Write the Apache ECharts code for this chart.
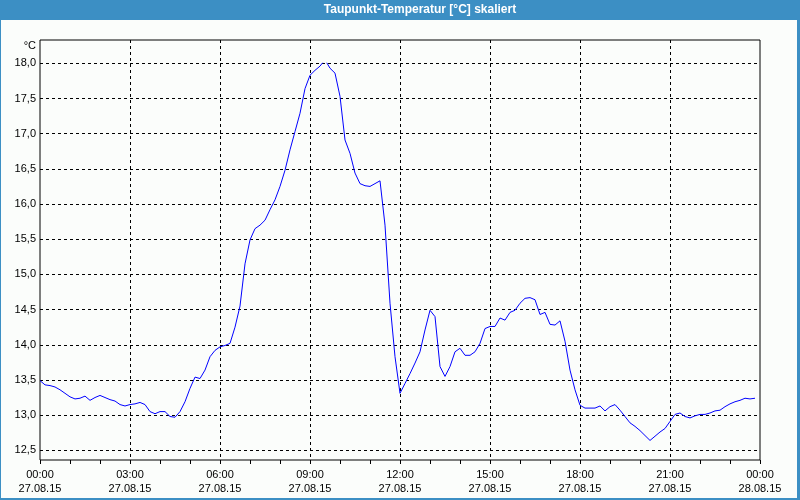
<!DOCTYPE html>
<html><head><meta charset="utf-8">
<script src="https://cdn.jsdelivr.net/npm/echarts@6/dist/echarts.min.js"></script>
<style>html,body{margin:0;padding:0;background:#fbfdfb}#c{width:800px;height:500px}</style>
</head><body><div id="c"></div><script>
// ---- data ----
const chartTitle = 'Taupunkt-Temperatur [°C] skaliert';
const unitLabel = '°C';
const sampleStepMinutes = 10; // readings every 10 minutes starting 27.08.15 00:00
const dewPoint = [
  13.49, 13.43, 13.42, 13.40, 13.36, 13.31, 13.26, 13.23, 13.24, 13.27,
  13.21, 13.25, 13.28, 13.25, 13.22, 13.20, 13.15, 13.13, 13.15, 13.16,
  13.18, 13.15, 13.05, 13.02, 13.05, 13.05, 12.98, 12.97, 13.05, 13.19,
  13.38, 13.54, 13.52, 13.64, 13.83, 13.92, 13.97, 13.99, 14.02, 14.25,
  14.55, 15.15, 15.49, 15.65, 15.70, 15.77, 15.92, 16.06, 16.25, 16.48,
  16.77, 17.03, 17.29, 17.64, 17.83, 17.90, 17.96, 18.05, 17.93, 17.86,
  17.53, 16.91, 16.72, 16.44, 16.29, 16.26, 16.25, 16.29, 16.33, 15.70,
  14.59, 13.83, 13.31, 13.45, 13.59, 13.74, 13.90, 14.21, 14.49, 14.40,
  13.69, 13.55, 13.69, 13.90, 13.95, 13.85, 13.85, 13.90, 14.02, 14.23,
  14.26, 14.26, 14.38, 14.35, 14.46, 14.49, 14.59, 14.66, 14.67, 14.64,
  14.43, 14.46, 14.29, 14.28, 14.34, 14.05, 13.64, 13.36, 13.14, 13.10,
  13.10, 13.10, 13.13, 13.06, 13.12, 13.15, 13.07, 12.98, 12.89, 12.84,
  12.78, 12.71, 12.64, 12.70, 12.76, 12.81, 12.91, 13.01, 13.03, 12.98,
  12.96, 12.99, 13.01, 13.01, 13.03, 13.06, 13.07, 13.12, 13.16, 13.19,
  13.21, 13.24, 13.23, 13.24
];
const xTickLabels = [
  '00:00\n27.08.15', '03:00\n27.08.15', '06:00\n27.08.15', '09:00\n27.08.15',
  '12:00\n27.08.15', '15:00\n27.08.15', '18:00\n27.08.15', '21:00\n27.08.15',
  '00:00\n28.08.15'
];
const xHourMin = 0, xHourMax = 24, xLabelStep = 3;
const yTickMin = 12.5, yTickMax = 18.0, yTickStep = 0.5;

// ---- layout ----
const FONT = 'Liberation Sans';
const plot = { left: 40, top: 40, width: 720, height: 420 };
const inner = { top: 63.3, bottom: 49.7 }; // pixel rows of the 18,0 and 12,5 gridlines

const points = dewPoint.map((v, i) => [i * sampleStepMinutes / 60, v]);

const chart = echarts.init(document.getElementById('c'), null, { renderer: 'canvas' });
chart.setOption({
  backgroundColor: '#fbfdfb',
  animation: false,
  textStyle: { fontFamily: FONT },
  grid: [
    { left: plot.left, top: plot.top, width: plot.width, height: plot.height,
      show: true, borderColor: '#000', borderWidth: 1, backgroundColor: 'transparent', z: 0 },
    { left: plot.left, width: plot.width, top: inner.top, bottom: inner.bottom, show: false }
  ],
  xAxis: [
    { type: 'value', gridIndex: 0, min: xHourMin, max: xHourMax, interval: xLabelStep,
      axisLine: { show: false },
      axisTick: { show: true, length: 4, inside: false, lineStyle: { color: '#000' } },
      minorTick: { show: true, splitNumber: 3, length: 4, lineStyle: { color: '#000' } },
      splitLine: { show: true, showMinLine: false, showMaxLine: false,
        lineStyle: { color: '#000', type: [3, 3], width: 1 } },
      axisLabel: { margin: 8, color: '#000', fontFamily: FONT, fontSize: 11, lineHeight: 14,
        showMinLabel: true, showMaxLabel: true,
        formatter: v => xTickLabels[Math.round(v / xLabelStep)] || '' } },
    { type: 'value', gridIndex: 1, min: xHourMin, max: xHourMax, show: false }
  ],
  yAxis: [
    { type: 'value', gridIndex: 0, show: false, min: 0, max: 1 },
    { type: 'value', gridIndex: 1, min: yTickMin, max: yTickMax, interval: yTickStep,
      axisLine: { show: false }, axisTick: { show: false },
      splitLine: { show: true, lineStyle: { color: '#000', type: [3, 3], width: 1 } },
      axisLabel: { margin: 4, color: '#000', fontFamily: FONT, fontSize: 11,
        formatter: v => v.toFixed(1).replace('.', ',') } }
  ],
  series: [{
    type: 'line', xAxisIndex: 1, yAxisIndex: 1, data: points,
    showSymbol: false, symbol: 'none', smooth: false,
    lineStyle: { color: '#0000ff', width: 1 }, z: 5
  }],
  graphic: [
    { type: 'rect', left: 0, top: 0, shape: { width: 800, height: 20 }, style: { fill: '#3c8fc4' }, z: 10 },
    { type: 'rect', left: 0, top: 0, shape: { width: 1, height: 500 }, style: { fill: '#3c8fc4' }, z: 10 },
    { type: 'rect', left: 797, top: 0, shape: { width: 3, height: 500 }, style: { fill: '#3c8fc4' }, z: 10 },
    { type: 'rect', left: 0, top: 498, shape: { width: 800, height: 2 }, style: { fill: '#3c8fc4' }, z: 10 },
    { type: 'text', x: 420, y: 10, z: 11,
      style: { text: chartTitle, fill: '#fff', font: 'bold 12px "' + FONT + '"',
        textAlign: 'center', textVerticalAlign: 'middle' } },
    { type: 'text', x: 36, y: 46, z: 11,
      style: { text: unitLabel, fill: '#000', font: '11px "' + FONT + '"',
        textAlign: 'right', textVerticalAlign: 'middle' } }
  ]
});
</script></body></html>
